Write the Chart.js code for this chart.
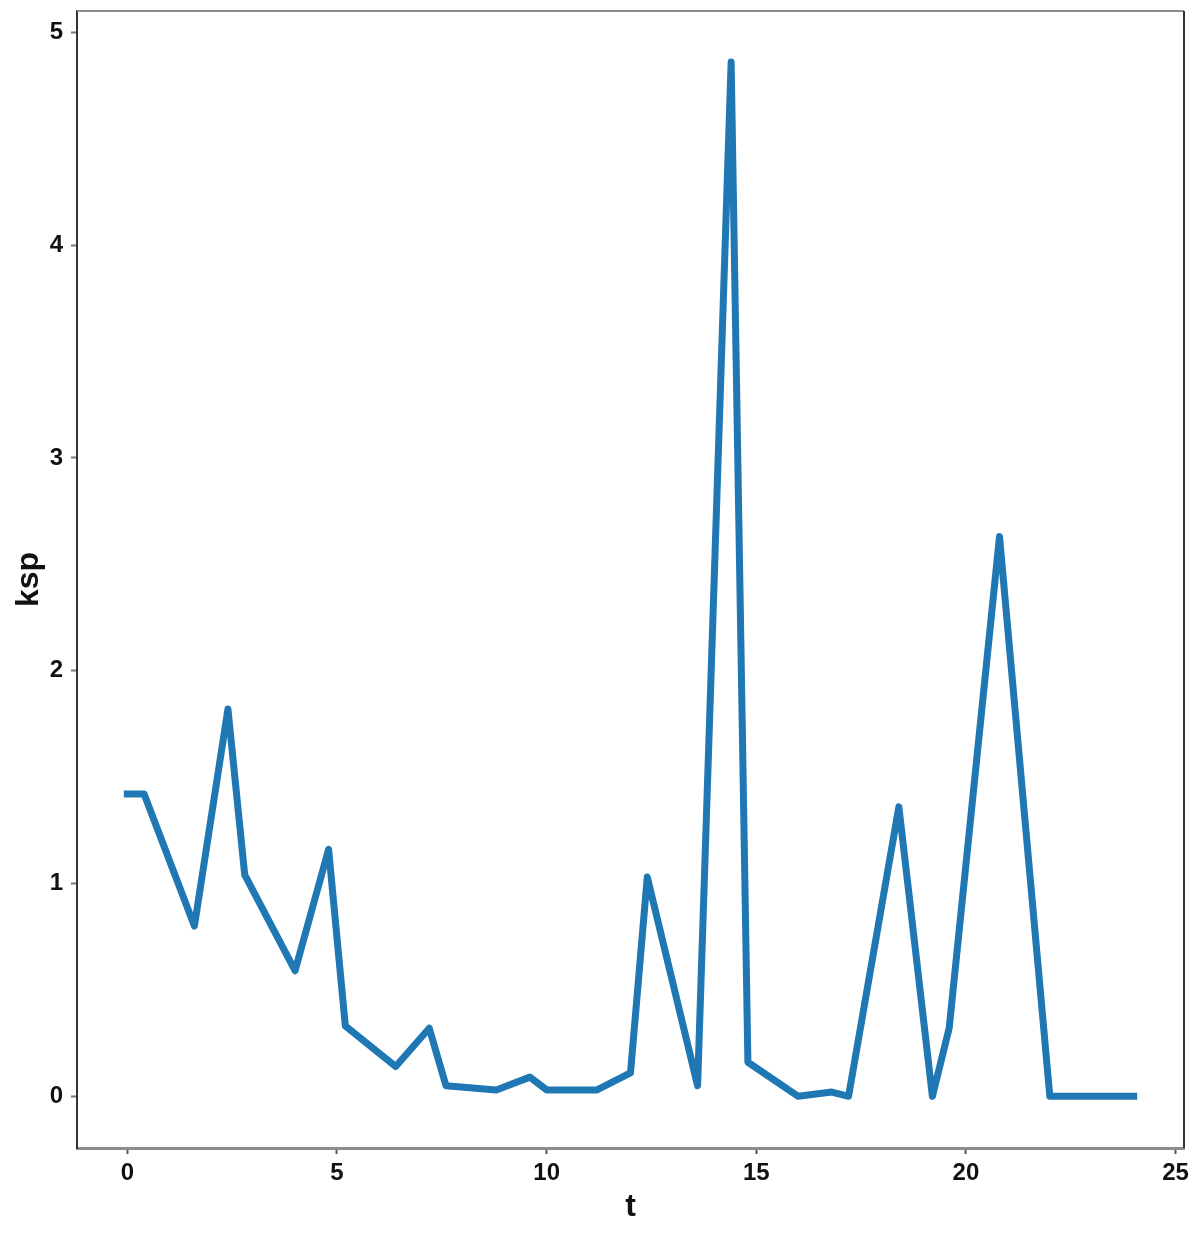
<!DOCTYPE html>
<html>
<head>
<meta charset="utf-8">
<script src="https://cdn.jsdelivr.net/npm/chart.js@4.4.1/dist/chart.umd.min.js"></script>
<style>
  html, body { margin: 0; padding: 0; background: #fff; }
  #c { display: block; }
</style>
</head>
<body>
<canvas id="c" width="1200" height="1236"></canvas>
<script>
// data
const tValues = [0, 0.4, 1.6, 2.4, 2.8, 4.0, 4.8, 5.2, 6.4, 7.2, 7.6, 8.8, 9.6, 10.0, 11.2,
                 12.0, 12.4, 13.6, 14.4, 14.8, 16.0, 16.8, 17.2, 18.4, 19.2, 19.6, 20.8, 22.0, 24.0];
const kspValues = [1.42, 1.42, 0.80, 1.82, 1.04, 0.59, 1.16, 0.33, 0.14, 0.32, 0.05, 0.03, 0.09, 0.03, 0.03,
                   0.11, 1.03, 0.05, 4.86, 0.16, 0.0, 0.02, 0.0, 1.36, 0.0, 0.32, 2.63, 0.0, 0.0];
const xTicks = [0, 5, 10, 15, 20, 25];
const yTicks = [0, 1, 2, 3, 4, 5];

const points = tValues.map((t, i) => ({ x: t, y: kspValues[i] }));

const fontFamily = '"Liberation Sans", Arial, Helvetica, sans-serif';

// top + right spines
const frame = {
  id: 'frame',
  afterDraw(chart) {
    const { ctx, chartArea: a } = chart;
    ctx.save();
    ctx.lineWidth = 2;
    ctx.strokeStyle = '#8c8c8c';
    ctx.beginPath();
    ctx.moveTo(a.left, a.top);
    ctx.lineTo(a.right, a.top);
    ctx.stroke();
    ctx.strokeStyle = '#333333';
    ctx.beginPath();
    ctx.moveTo(a.right, a.top);
    ctx.lineTo(a.right, a.bottom);
    ctx.stroke();
    ctx.restore();
  }
};

new Chart(document.getElementById('c').getContext('2d'), {
  type: 'line',
  data: {
    datasets: [{
      label: 'ksp',
      data: points,
      borderColor: '#1f77b4',
      borderWidth: 7,
      pointRadius: 0,
      tension: 0,
      fill: false,
      borderJoinStyle: 'round',
      borderCapStyle: 'square'
    }]
  },
  options: {
    responsive: false,
    animation: false,
    devicePixelRatio: 1,
    layout: { padding: { top: 11, right: 16, left: 0, bottom: 0 } },
    plugins: {
      legend: { display: false },
      tooltip: { enabled: false }
    },
    scales: {
      x: {
        type: 'linear',
        min: -1.2,
        max: 25.2,
        afterBuildTicks: s => { s.ticks = xTicks.map(v => ({ value: v })); },
        afterFit: s => { s.height = 88; s.paddingLeft = 0; s.paddingRight = 0; },
        border: { display: true, color: '#8c8c8c', width: 3 },
        grid: { drawOnChartArea: false, drawTicks: true, tickLength: 6, tickWidth: 2, color: '#555' },
        ticks: {
          padding: 5,
          color: '#111',
          maxRotation: 0,
          font: { family: fontFamily, size: 24, weight: 'bold' }
        },
        title: {
          display: true,
          text: 't',
          color: '#111',
          padding: { top: 0, bottom: 10 },
          font: { family: fontFamily, size: 32, weight: 'bold' }
        }
      },
      y: {
        type: 'linear',
        min: -0.243,
        max: 5.10,
        afterBuildTicks: s => { s.ticks = yTicks.map(v => ({ value: v })); },
        afterFit: s => { s.width = 77; s.paddingTop = 0; s.paddingBottom = 0; },
        border: { display: true, color: '#333333', width: 2 },
        grid: { drawOnChartArea: false, drawTicks: true, tickLength: 6, tickWidth: 2, color: '#777' },
        ticks: {
          padding: 8,
          color: '#111',
          font: { family: fontFamily, size: 24, weight: 'bold' }
        },
        title: {
          display: true,
          text: 'ksp',
          color: '#111',
          padding: { top: 10, bottom: 0 },
          font: { family: fontFamily, size: 32, weight: 'bold' }
        }
      }
    }
  },
  plugins: [frame]
});
</script>
</body>
</html>
